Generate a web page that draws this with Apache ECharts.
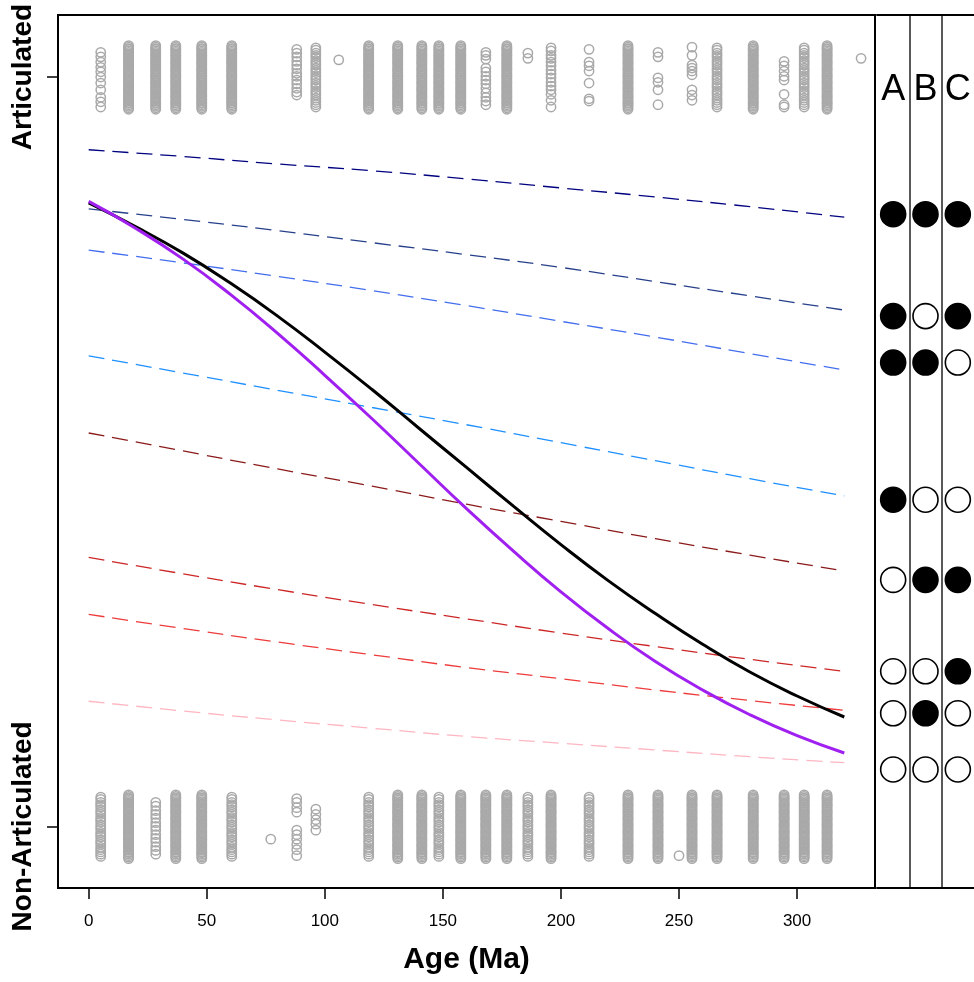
<!DOCTYPE html>
<html>
<head>
<meta charset="utf-8">
<script src="https://cdn.jsdelivr.net/npm/echarts@6/dist/echarts.min.js"></script>
<style>
  html, body { margin: 0; padding: 0; background: #ffffff; }
  #chart { width: 974px; height: 982px; }
</style>
</head>
<body>
<div id="chart"></div>
<script>
// ---- Observations: age (Ma) of each specimen column and its vertical jitter ----
const denseJitter = [0.042, 0.040, 0.038, 0.037, 0.035, 0.033, 0.031, 0.029, 0.028, 0.026,
  0.024, 0.022, 0.020, 0.019, 0.017, 0.015, 0.013, 0.011, 0.010, 0.008, 0.006, 0.004, 0.002,
  0.001, -0.001, -0.003, -0.005, -0.007, -0.008, -0.010, -0.012, -0.014, -0.016, -0.017,
  -0.019, -0.021, -0.023, -0.025, -0.026, -0.028, -0.030, -0.032, -0.034, -0.035, -0.037,
  -0.039, -0.041, -0.043];
const semiJitter = [0.039, 0.036, 0.032, 0.029, 0.026, 0.022, 0.019, 0.016, 0.012, 0.009,
  0.006, 0.002, -0.001, -0.004, -0.008, -0.011, -0.014, -0.018, -0.021, -0.024, -0.028,
  -0.031, -0.034, -0.037, -0.040];

const articulatedAges = [5.1, 16.9, 28.4, 36.9, 47.9, 60.6, 88.1, 96.2, 105.9, 118.6, 130.9,
  141.1, 148.3, 157.6, 168.2, 177.1, 186.0, 195.8, 211.9, 228.4, 241.1, 255.5, 266.1, 281.4,
  294.5, 303.0, 312.7, 327.1];
const articulatedJitter = [
  [0.033, 0.027, 0.020, 0.013, 0.007, 0, -0.008, -0.017, -0.027, -0.033, -0.040],
  denseJitter, denseJitter, denseJitter, denseJitter, denseJitter,
  [0.037, 0.032, 0.027, 0.021, 0.016, 0.011, 0.005, 0.001, -0.004, -0.009, -0.015, -0.020, -0.024],
  semiJitter,
  [0.023],
  denseJitter, denseJitter, denseJitter, denseJitter, denseJitter,
  [0.033, 0.029, 0.024, 0.012, 0.007, 0.001, -0.004, -0.009, -0.015, -0.021, -0.027, -0.032, -0.037],
  denseJitter,
  [0.032, 0.025],
  [0.039, 0.035, 0.029, 0.025, 0.020, 0.015, 0.009, 0.004, -0.001, -0.007, -0.012, -0.017, -0.023, -0.031, -0.040],
  [0.037, 0.020, 0.015, 0.008, -0.008, -0.029, -0.032],
  denseJitter,
  [0.033, 0.027, -0.001, -0.007, -0.017, -0.037],
  [0.040, 0.029, 0.016, 0.012, 0.008, 0.003, -0.017, -0.024, -0.031],
  semiJitter,
  denseJitter,
  [0.021, 0.015, 0.008, 0.001, -0.004, -0.023, -0.037, -0.040],
  semiJitter,
  denseJitter,
  [0.025]
];

const nonArticulatedAges = [5.1, 16.9, 28.4, 36.9, 47.9, 60.6, 77.1, 88.1, 96.2, 118.6, 130.9,
  141.1, 148.3, 157.6, 168.2, 177.1, 186.0, 195.8, 211.9, 228.4, 241.1, 250.0, 255.5, 266.1,
  281.4, 294.5, 303.0, 312.7];
const nonArticulatedJitter = [
  semiJitter, denseJitter,
  [0.032, 0.027, 0.021, 0.016, 0.011, 0.005, 0, -0.005, -0.011, -0.016, -0.021, -0.027, -0.032, -0.037],
  denseJitter, denseJitter, semiJitter,
  [-0.017],
  [0.037, 0.032, 0.025, 0.019, -0.005, -0.011, -0.017, -0.024, -0.031, -0.039],
  [0.023, 0.016, 0.009, 0.003, -0.005],
  semiJitter, denseJitter, denseJitter, semiJitter, denseJitter, denseJitter, denseJitter,
  semiJitter, denseJitter, semiJitter, denseJitter, denseJitter,
  [-0.039],
  denseJitter, denseJitter, denseJitter, denseJitter, denseJitter, denseJitter
];

// ---- Fitted probability of articulation against age ----
const curveAges = [0, 20, 40, 60, 80, 100, 120, 140, 160, 180, 200, 220, 240, 260, 280, 300, 320];
const overallFit = [0.832, 0.800, 0.765, 0.725, 0.681, 0.633, 0.583, 0.531, 0.479, 0.427, 0.376,
  0.328, 0.284, 0.243, 0.206, 0.174, 0.146];
const altFit = [0.834, 0.798, 0.757, 0.710, 0.658, 0.602, 0.544, 0.484, 0.424, 0.367, 0.313,
  0.264, 0.220, 0.182, 0.149, 0.121, 0.098];

// Per-combination fits of traits A, B, C
const comboAges = [0, 40, 80, 120, 160, 200, 240, 280, 320];
const fitABC  = [0.903, 0.894, 0.884, 0.875, 0.864, 0.852, 0.840, 0.827, 0.813];
const fitAC   = [0.824, 0.810, 0.795, 0.779, 0.763, 0.746, 0.727, 0.708, 0.689];
const fitAB   = [0.769, 0.752, 0.734, 0.715, 0.695, 0.674, 0.653, 0.631, 0.609];
const fitA    = [0.628, 0.605, 0.582, 0.559, 0.536, 0.512, 0.488, 0.464, 0.441];
const fitBC   = [0.525, 0.501, 0.477, 0.454, 0.430, 0.407, 0.384, 0.362, 0.341];
const fitC    = [0.359, 0.337, 0.316, 0.296, 0.277, 0.258, 0.240, 0.223, 0.207];
const fitB    = [0.283, 0.264, 0.246, 0.229, 0.212, 0.197, 0.182, 0.168, 0.155];
const fitNone = [0.167, 0.154, 0.142, 0.131, 0.120, 0.111, 0.102, 0.093, 0.085];

// ---- Trait key: which traits are present in each combination row ----
const traitNames = ['A', 'B', 'C'];
const rowLevels = [0.817, 0.681, 0.619, 0.436, 0.329, 0.207, 0.151, 0.076];
const presentA = [1, 1, 1, 1, 0, 0, 0, 0];
const presentB = [1, 0, 1, 0, 1, 0, 1, 0];
const presentC = [1, 1, 0, 0, 1, 1, 0, 0];

// ---- Tick labels ----
const ageTicks = [0, 50, 100, 150, 200, 250, 300];
const stateTicks = [0, 1];
const stateLabels = { 0: 'Non-Articulated', 1: 'Articulated' };

// ---- Build chart ----
const FONT = '"Liberation Sans", Arial, Helvetica, sans-serif';

function columnPoints(ages, jitters, base) {
  const pts = [];
  ages.forEach((age, i) => jitters[i].forEach(j => pts.push([age, base + j])));
  return pts;
}

function pairs(xs, ys) { return xs.map((x, i) => [x, ys[i]]); }

const pointStyle = {
  type: 'scatter', xAxisIndex: 0, yAxisIndex: 0, symbol: 'circle', symbolSize: 9.3,
  large: false, progressive: 0, silent: true, z: 1,
  itemStyle: { color: 'rgba(0,0,0,0)', borderColor: '#A9A9A9', borderWidth: 1.5, opacity: 1 }
};

const combos = [
  { data: fitABC, color: '#000080' },
  { data: fitAC, color: '#27408B' },
  { data: fitAB, color: '#436EEE' },
  { data: fitA, color: '#1E90FF' },
  { data: fitBC, color: '#8B1A1A' },
  { data: fitC, color: '#CD2626' },
  { data: fitB, color: '#EE3B3B' },
  { data: fitNone, color: '#FFB6C1' }
];

const keyData = [];
[presentA, presentB, presentC].forEach((present, col) => {
  present.forEach((on, row) => {
    keyData.push({
      value: [col, rowLevels[row]],
      itemStyle: { color: on ? '#000000' : '#ffffff', borderColor: '#000000',
        borderWidth: 1.6, opacity: 1 }
    });
  });
});

const series = [
  Object.assign({ data: columnPoints(articulatedAges, articulatedJitter, 1) }, pointStyle),
  Object.assign({ data: columnPoints(nonArticulatedAges, nonArticulatedJitter, 0) }, pointStyle)
];
combos.forEach(c => series.push({
  type: 'line', xAxisIndex: 0, yAxisIndex: 0, data: pairs(comboAges, c.data), smooth: true,
  showSymbol: false, silent: true, z: 2,
  lineStyle: { color: c.color, width: 1.3, type: [16, 8] }
}));
series.push({
  type: 'line', xAxisIndex: 0, yAxisIndex: 0, data: pairs(curveAges, overallFit), smooth: true,
  showSymbol: false, silent: true, z: 3, lineStyle: { color: '#000000', width: 3 }
});
series.push({
  type: 'line', xAxisIndex: 0, yAxisIndex: 0, data: pairs(curveAges, altFit), smooth: true,
  showSymbol: false, silent: true, z: 4, lineStyle: { color: '#A020F0', width: 3 }
});
series.push({
  type: 'scatter', xAxisIndex: 1, yAxisIndex: 1, data: keyData, symbol: 'circle',
  symbolSize: 25, silent: true, z: 3
});

const Y_MIN = -0.0822, Y_MAX = 1.0828;

const option = {
  animation: false,
  backgroundColor: '#ffffff',
  grid: [
    { left: 58, top: 15, width: 817, height: 873, show: true, borderColor: '#000000',
      borderWidth: 2, backgroundColor: 'rgba(0,0,0,0)' },
    { left: 877, top: 15, width: 100, height: 873, show: false }
  ],
  xAxis: [
    {
      gridIndex: 0, type: 'value', min: -13, max: 333,
      axisLine: { show: false, onZero: false },
      axisTick: { show: true, customValues: ageTicks, length: 11,
        lineStyle: { color: '#000000', width: 1.5 } },
      axisLabel: { customValues: ageTicks, fontSize: 17, color: '#000000', margin: 25,
        fontFamily: FONT },
      splitLine: { show: false },
      name: 'Age (Ma)', nameLocation: 'middle', nameGap: 57,
      nameTextStyle: { fontSize: 30, fontWeight: 'bold', color: '#000000', fontFamily: FONT }
    },
    {
      gridIndex: 1, type: 'category', position: 'top', data: traitNames, boundaryGap: true,
      axisLine: { show: true, onZero: false, lineStyle: { color: '#000000', width: 2 } },
      axisTick: { show: false },
      axisLabel: { inside: true, interval: 0, margin: 57, fontSize: 36, color: '#000000',
        fontFamily: FONT },
      splitLine: { show: true, interval: 0, lineStyle: {
        color: ['rgba(0,0,0,0)', '#222222', '#222222', 'rgba(0,0,0,0)'], width: 1.5 } }
    },
    {
      gridIndex: 1, type: 'value', position: 'bottom', min: 0, max: 1,
      axisLine: { show: true, onZero: false, lineStyle: { color: '#000000', width: 2 } },
      axisTick: { show: false }, axisLabel: { show: false }, splitLine: { show: false }
    }
  ],
  yAxis: [
    {
      gridIndex: 0, type: 'value', min: Y_MIN, max: Y_MAX,
      axisLine: { show: false, onZero: false },
      axisTick: { show: true, customValues: stateTicks, length: 11,
        lineStyle: { color: '#000000', width: 1.5 } },
      axisLabel: { customValues: stateTicks, rotate: 90, margin: 21, fontSize: 28,
        fontWeight: 'bold', color: '#000000', fontFamily: FONT,
        formatter: v => stateLabels[Math.round(v)] },
      splitLine: { show: false }
    },
    {
      gridIndex: 1, type: 'value', min: Y_MIN, max: Y_MAX, show: false,
      axisLine: { onZero: false }
    }
  ],
  series: series
};

const chart = echarts.init(document.getElementById('chart'), null, { renderer: 'canvas' });
chart.setOption(option);
</script>
</body>
</html>
